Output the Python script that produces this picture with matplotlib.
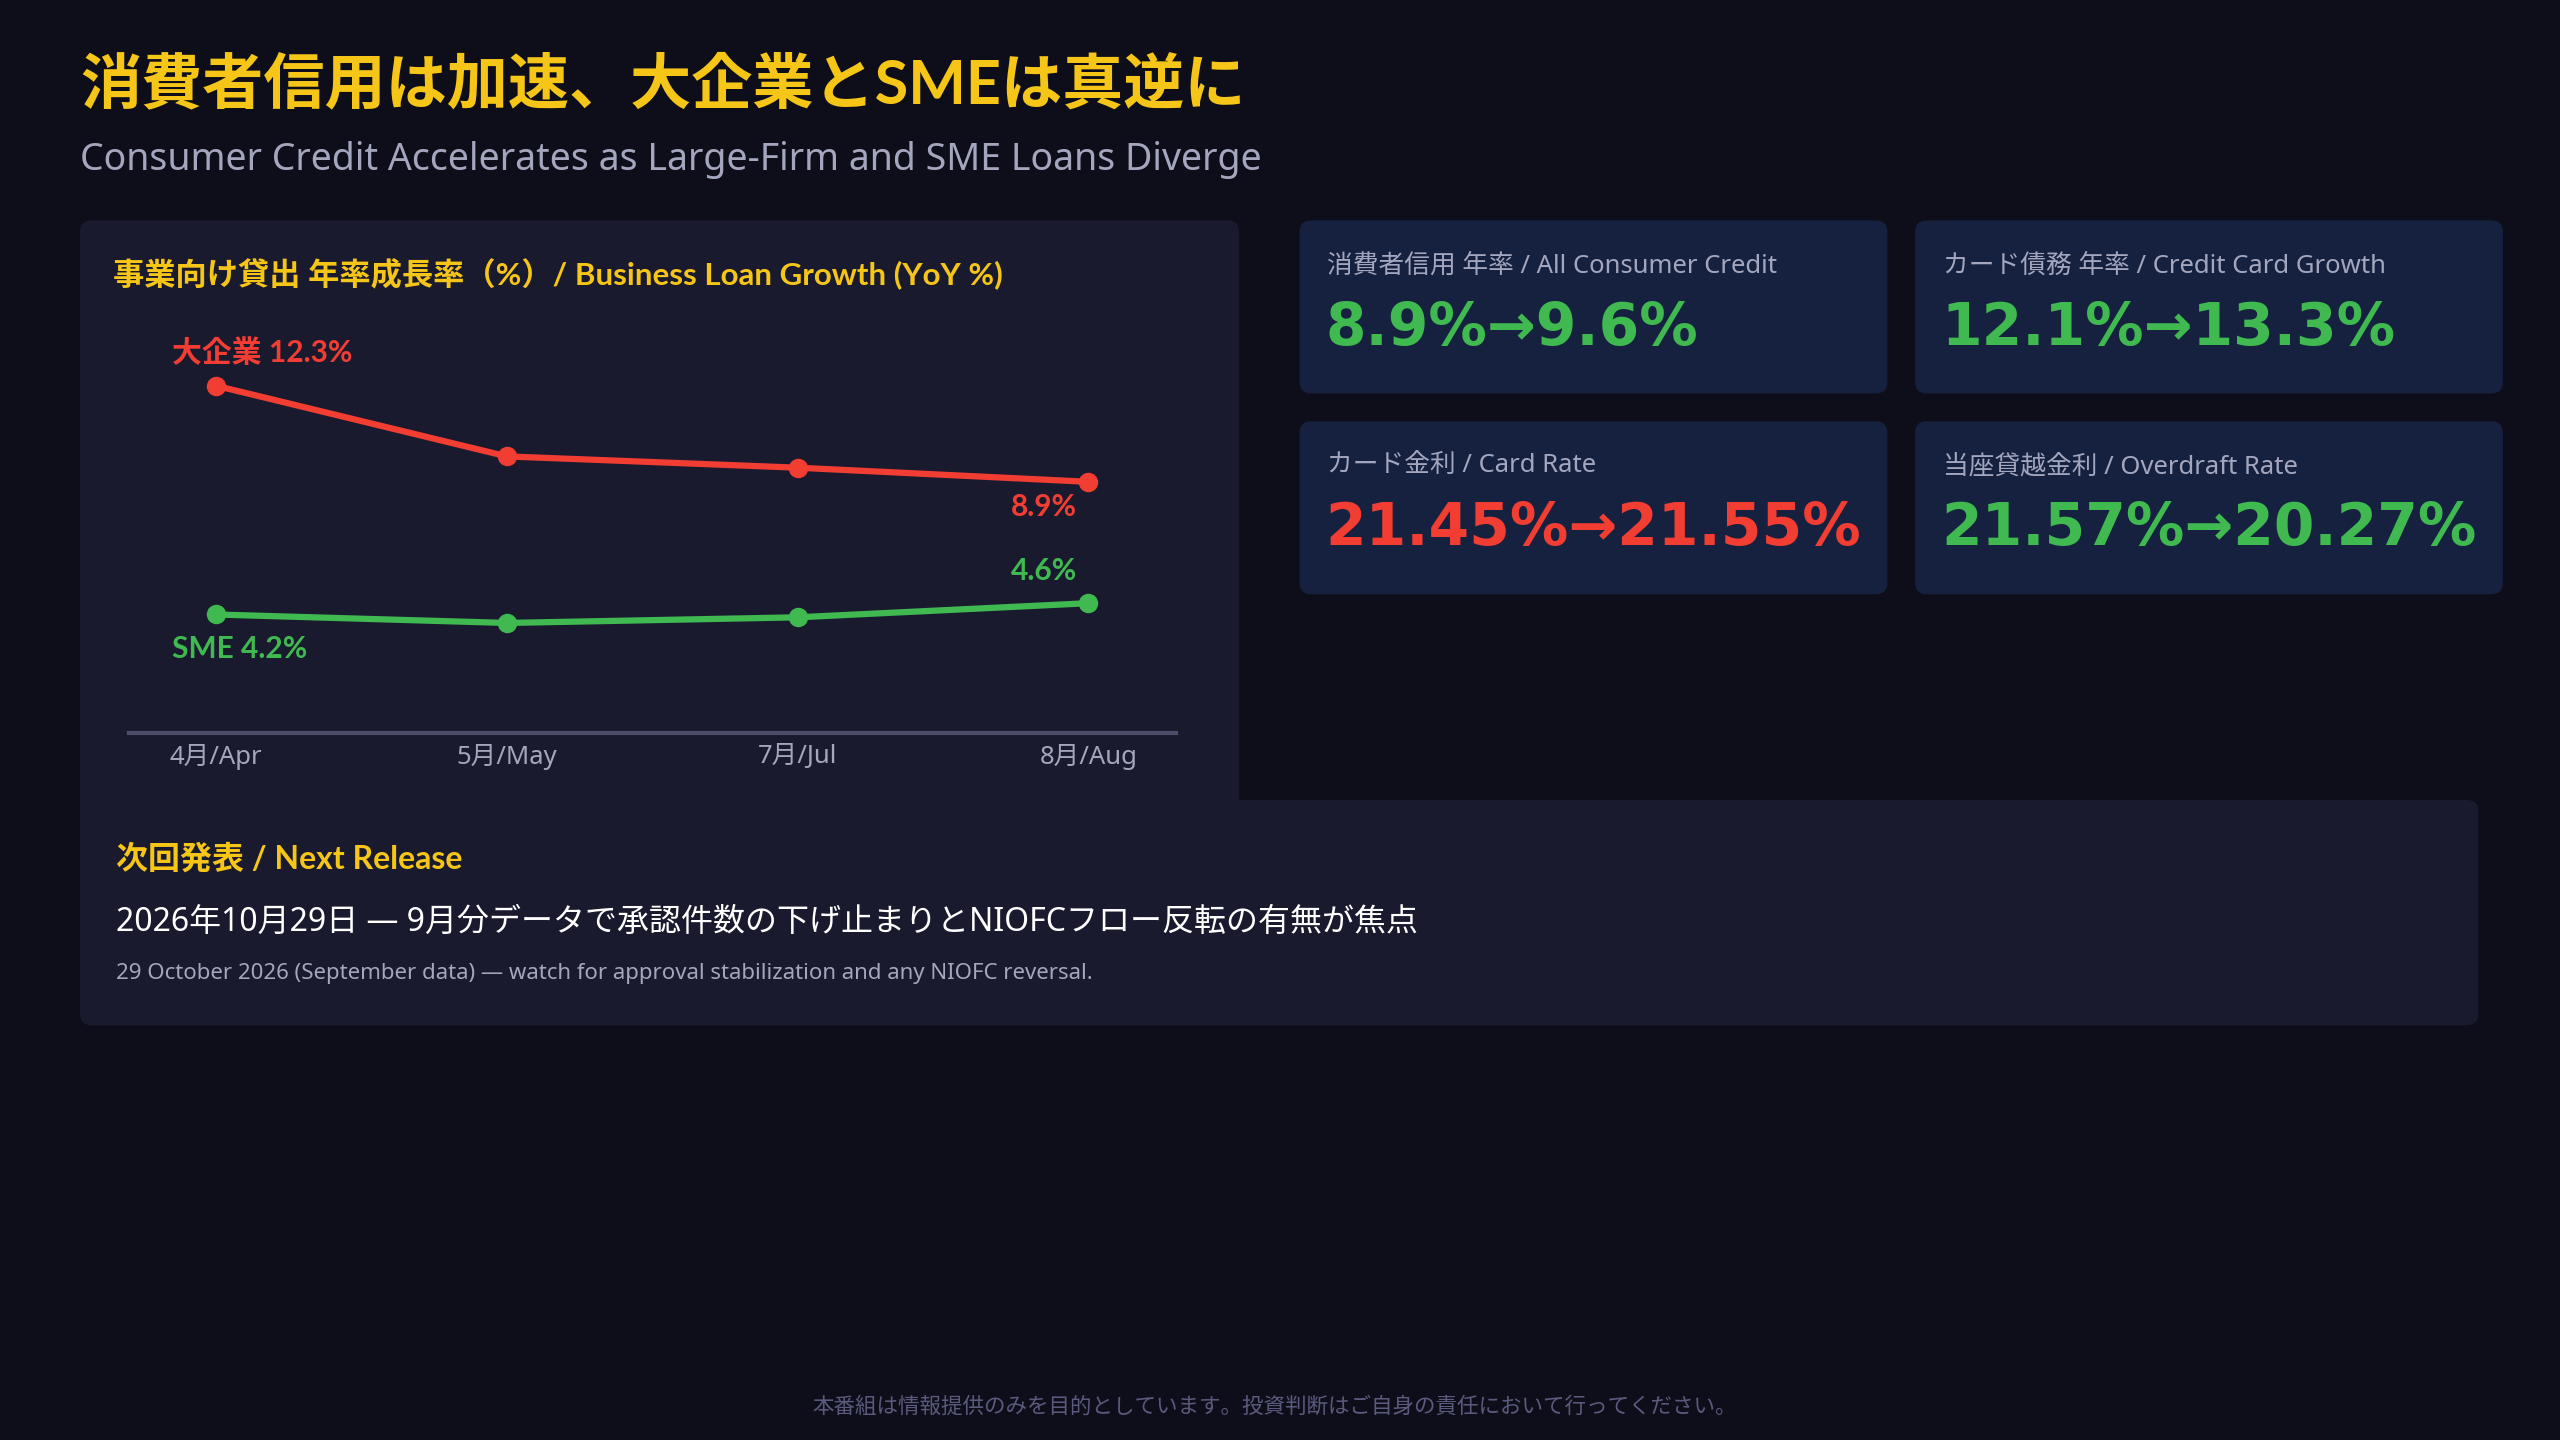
import matplotlib
matplotlib.use("Agg")
import matplotlib.pyplot as plt
from matplotlib.patches import FancyBboxPatch

plt.rcParams['font.family'] = ['Noto Sans', 'Noto Sans CJK JP', 'DejaVu Sans']
BOLDF = ['Lato', 'Noto Sans CJK JP', 'DejaVu Sans']

months = ["4月/Apr", "5月/May", "7月/Jul", "8月/Aug"]
large_firm = [12.3, 9.8, 9.4, 8.9]
sme = [4.2, 3.9, 4.1, 4.6]
kpi_labels = ["消費者信用 年率 / All Consumer Credit", "カード債務 年率 / Credit Card Growth",
              "カード金利 / Card Rate", "当座貸越金利 / Overdraft Rate"]
kpi_values = ["8.9%→9.6%", "12.1%→13.3%", "21.45%→21.55%", "21.57%→20.27%"]
kpi_up_bad = [False, False, True, False]

BG = "#0e0e1a"; PANEL = "#191a2e"; CARD = "#15213f"
YEL = "#f5c518"; RED = "#f23d33"; GRN = "#3fb950"; GRAY = "#a3a6bd"

W, H = 1568, 882
fig = plt.figure(figsize=(25.6, 14.4), dpi=100, facecolor=BG)
bg = fig.add_axes([0, 0, 1, 1]); bg.set_xlim(0, W); bg.set_ylim(H, 0); bg.axis('off')

def box(x0, y0, x1, y1, c, z=0):
    bg.add_patch(FancyBboxPatch((x0, y0), x1 - x0, y1 - y0, boxstyle="round,pad=0,rounding_size=7",
                                fc=c, ec='none', zorder=z))

bg.text(49, 52, "消費者信用は加速、大企業とSMEは真逆に", color=YEL, fontsize=44, fontweight='bold', va='center', family=BOLDF)
bg.text(49, 98, "Consumer Credit Accelerates as Large-Firm and SME Loans Diverge", color=GRAY, fontsize=27, va='center')

box(49, 135, 759, 500, PANEL)
bg.text(69, 168, "事業向け貸出 年率成長率（%）/ Business Loan Growth (YoY %)", color=YEL, fontsize=22.5, fontweight='bold', va='center', family=BOLDF)

pos = [(796, 135), (1173, 135), (796, 258), (1173, 258)]
for (x, y), lab, val, bad in zip(pos, kpi_labels, kpi_values, kpi_up_bad):
    box(x, y, x + 360, y + 106, CARD)
    bg.text(x + 17, y + 28, lab, color=GRAY, fontsize=18.5, va='center')
    bg.text(x + 16, y + 66, val, color=RED if bad else GRN, fontsize=42, fontweight='black', va='center',
            family=['DejaVu Sans', 'Noto Sans CJK JP'])

box(49, 490, 1518, 628, PANEL, z=3)
bg.text(71, 526, "次回発表 / Next Release", color=YEL, fontsize=23, fontweight='bold', va='center', zorder=4, family=BOLDF)
bg.text(71, 565, "2026年10月29日 — 9月分データで承認件数の下げ止まりとNIOFCフロー反転の有無が焦点", color="white", fontsize=23, va='center', zorder=4)
bg.text(71, 596, "29 October 2026 (September data) — watch for approval stabilization and any NIOFC reversal.", color=GRAY, fontsize=16, va='center', zorder=4)

bg.text(781, 862, "本番組は情報提供のみを目的としています。投資判断はご自身の責任において行ってください。", color="#5a5a7e", fontsize=15.5, ha='center', va='center')

# line chart
ax = fig.add_axes([79 / W, 1 - 449 / H, (720 - 79) / W, (449 - 200) / H])
ax.set_facecolor('none')
xs = list(range(len(months)))
ax.plot(xs, large_firm, color=RED, lw=4.5, marker='o', ms=13, solid_capstyle='round')
ax.plot(xs, sme, color=GRN, lw=4.5, marker='o', ms=13, solid_capstyle='round')
ax.set_xlim(-0.3, 3.3)
ax.set_ylim(0, 14.4)
for s in ['top', 'right', 'left']:
    ax.spines[s].set_visible(False)
ax.spines['bottom'].set_color('#4d4d6b'); ax.spines['bottom'].set_linewidth(3)
ax.set_yticks([])
ax.set_xticks(xs); ax.set_xticklabels(months, color=GRAY, fontsize=18.5)
ax.tick_params(axis='x', length=0, pad=8)
kw = dict(textcoords='offset points', fontsize=21.5, fontweight='bold', va='center', family=BOLDF)
ax.annotate(f"大企業 {large_firm[0]}%", (xs[0], large_firm[0]), xytext=(-32, 24), color=RED, **kw)
ax.annotate(f"{large_firm[-1]}%", (xs[-1], large_firm[-1]), xytext=(-8, -18), color=RED, ha='right', **kw)
ax.annotate(f"{sme[-1]}%", (xs[-1], sme[-1]), xytext=(-8, 23), color=GRN, ha='right', **kw)
ax.annotate(f"SME {sme[0]}%", (xs[0], sme[0]), xytext=(-32, -25), color=GRN, **kw)

fig.savefig("out.png", dpi=100, facecolor=BG)
